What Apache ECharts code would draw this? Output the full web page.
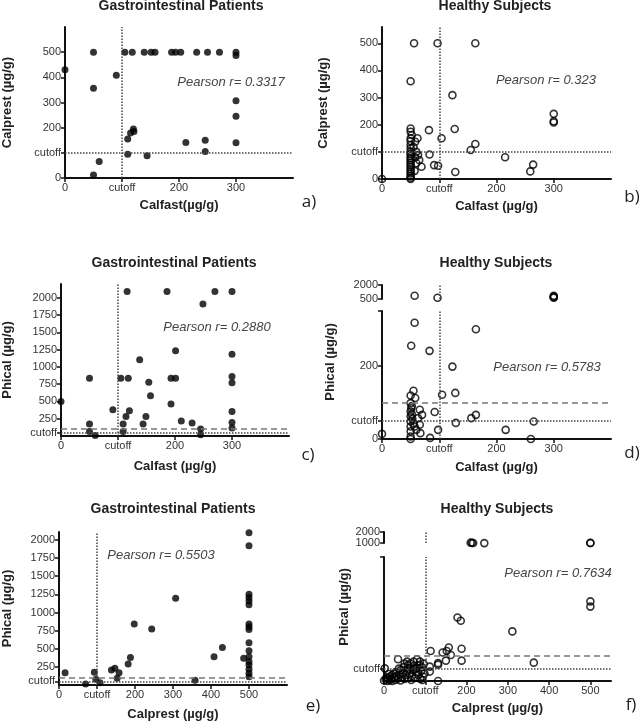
<!DOCTYPE html>
<html>
<head>
<meta charset="utf-8">
<script src="https://cdn.jsdelivr.net/npm/echarts@6/dist/echarts.min.js"></script>
<style>
  html, body { margin: 0; padding: 0; background: #fff; }
  #chart { width: 640px; height: 723px; }
</style>
</head>
<body>
<div id="chart"></div>
<script>
// a) GI patients, calfast vs calprest
const giCalfastCalprest = [[0,430],[50,500],[50,357],[50,12],[60,66],[90,408],[105,500],[118,500],[139,500],[151,500],[158,500],[187,500],[194,500],[203,500],[231,500],[250,500],[271,500],[300,500],[300,487],[300,307],[300,245],[300,140],[212,141],[246,150],[246,105],[144,88],[110,94],[110,155],[115,179],[120,195],[121,185]];
// b) healthy, calfast vs calprest
const hsCalfastCalprest = [[0,0],[56,500],[97,500],[163,500],[50,360],[123,309],[82,180],[127,184],[104,150],[163,129],[155,107],[215,80],[264,53],[259,28],[300,240],[300,213],[300,208],[83,90],[91,51],[98,49],[128,26],
  [50,186],[50,174],[52,162],[50,150],[50,140],[50,125],[50,113],[50,100],[50,92],[50,84],[50,76],[50,68],[50,60],[50,52],[50,44],[50,36],[50,28],[50,20],[50,12],[50,5],[50,0],
  [62,150],[58,137],[63,88],[65,70],[69,45],[60,58],[58,80],[55,118],[60,100],[57,30]];
// c) GI patients, calfast vs phical
const giCalfastPhical = [[0,500],[50,837],[50,173],[50,66],[60,9],[91,380],[105,837],[118,837],[116,2090],[109,173],[109,66],[114,283],[120,365],[138,1102],[144,173],[149,283],[154,779],[157,581],[186,2090],[193,462],[193,837],[201,837],[201,1235],[211,216],[230,187],[245,101],[245,19],[249,1909],[270,2090],[300,2090],[300,1183],[300,860],[300,770],[300,355],[300,196],[300,115]];
// d) healthy, calfast vs phical (lower part and part above the axis break)
const hsCalfastPhical = [[0,14],[57,318],[51,255],[83,241],[164,300],[123,198],[105,121],[128,126],[92,74],[98,25],[84,3],[129,44],[156,57],[164,66],[216,25],[265,48],[260,0],
  [55,132],[50,119],[58,112],[50,98],[51,84],[50,75],[50,62],[50,48],[50,34],[50,21],[50,7],[50,0],[66,80],[70,66],[63,57],[66,39],[67,16],[60,25],[57,34],[52,90],[53,55],[52,68],[55,42]];
const hsCalfastPhicalHigh = [[57,850],[97,640],[300,850],[300,760],[300,680],[300,640]];
// e) GI patients, calprest vs phical
const giCalprestPhical = [[16,170],[70,14],[93,175],[97,79],[108,32],[138,207],[147,230],[158,170],[153,92],[182,290],[188,378],[198,842],[244,773],[307,1197],[358,65],[408,391],[430,516],[486,369],
  [500,2100],[500,1920],[500,1250],[500,1205],[500,1160],[500,1105],[500,840],[500,805],[500,765],[500,584],[500,474],[500,391],[500,322],[500,276],[500,217],[500,162],[500,115]];
// f) healthy, calprest vs phical
const hsCalprestPhical = [[178,256],[186,243],[311,200],[363,74],[500,321],[500,300],[113,121],[142,115],[157,135],[152,121],[162,105],[188,130],[188,82],[150,82],[131,72],[131,66],[111,58],[111,38],[93,4],[131,0],[34,88],[2,51],[56,78],[72,78],[87,78],
  [0,2],[4,6],[8,0],[10,10],[14,3],[18,8],[20,0],[24,14],[28,4],[30,20],[34,10],[38,26],[40,2],[44,16],[46,32],[50,8],[52,24],[56,40],[58,14],[60,50],[62,30],[66,4],[68,20],[70,44],[72,60],[76,12],[78,34],[80,52],[84,24],[86,64],[88,8],[90,40],[92,56],[94,18],[96,70],[98,30],[40,44],[30,36],[20,24],[14,18],[48,56],[64,70],[80,88],[50,70],[24,30],[6,14],[12,28],[36,50],[58,64],[74,50]];
const hsCalprestPhicalHigh = [[210,1030],[213,1015],[216,1000],[243,990],[500,1010],[500,995]];

const pearson = ['Pearson r= 0.3317', 'Pearson r= 0.323', 'Pearson r= 0.2880', 'Pearson r= 0.5783', 'Pearson r= 0.5503', 'Pearson r= 0.7634'];
const panelTitles = ['Gastrointestinal Patients', 'Healthy Subjects', 'Gastrointestinal Patients', 'Healthy Subjects', 'Gastrointestinal Patients', 'Healthy Subjects'];
const panelLetters = ['a)', 'b)', 'c)', 'd)', 'e)', 'f)'];

// cutoffs
const calCutoff = 100;      // calfast / calprest
const phicalCutoff = 50;    // dotted
const phicalUpper = 100;    // dashed

// tick values
const ticksCalfast = [0, 100, 200, 300];
const ticksCalprestX = [0, 100, 200, 300, 400, 500];
const ticksCalprestY = [0, 100, 200, 300, 400, 500];
const ticksPhicalGI = [50, 250, 500, 750, 1000, 1250, 1500, 1750, 2000];
const ticksPhicalHS = [0, 50, 200, 350];
const ticksPhicalHSHigh = [500, 2000];
const ticksPhicalHSf = [50, 500];
const ticksPhicalHSfHigh = [1000, 2000];

const FONT = 'Liberation Sans, Arial, sans-serif';

const grids = [
  { left: 65, top: 27, width: 228, height: 151 },     // a
  { left: 382, top: 27, width: 229, height: 152 },    // b
  { left: 61, top: 284, width: 228, height: 152 },    // c
  { left: 382, top: 311, width: 229, height: 128 },   // d lower
  { left: 382, top: 285, width: 229, height: 14 },    // d upper
  { left: 59, top: 532, width: 228, height: 153 },    // e
  { left: 384, top: 557, width: 227, height: 124 },   // f lower
  { left: 384, top: 532, width: 227, height: 11 }     // f upper
].map(g => ({ ...g, containLabel: false, outerBoundsMode: 'none' }));

function valueAxis(gridIndex, min, max, ticks, cut, name, nameGap, isY) {
  return {
    type: 'value',
    gridIndex,
    min,
    max,
    name,
    nameLocation: 'middle',
    nameGap,
    nameRotate: isY ? 90 : 0,
    nameTextStyle: { fontFamily: FONT, fontWeight: 'bold', fontSize: 13, color: '#222' },
    axisLine: { show: true, onZero: false, lineStyle: { color: '#111', width: 2 } },
    axisTick: { show: true, length: 4, customValues: ticks, lineStyle: { color: '#111', width: 1.5 } },
    axisLabel: {
      customValues: ticks.filter(v => v !== 350 && !(isY && v === 500 && ticks.length === 2 && max === 500)),
      formatter: v => (v === cut ? 'cutoff' : String(v)),
      fontFamily: FONT, fontSize: 11, color: '#333', margin: 4
    },
    splitLine: { show: false }
  };
}

function hiddenX(gridIndex, max) {
  return { type: 'value', gridIndex, min: 0, max, show: false };
}

const dotted = { type: 'dotted', color: '#444', width: 1.5 };
const dashed = { type: [6, 4], color: '#777', width: 1.5 };

function lines(list) {
  return {
    symbol: 'none', silent: true, animation: false,
    label: { show: false },
    data: list
  };
}

function scatter(idx, data, filled, markLines) {
  return {
    type: 'scatter',
    xAxisIndex: idx,
    yAxisIndex: idx,
    data,
    symbolSize: 7,
    clip: false,
    silent: true,
    itemStyle: filled
      ? { color: '#000' }
      : { color: 'rgba(0,0,0,0)', borderColor: '#000', borderWidth: 1.6 },
    markLine: markLines ? lines(markLines) : undefined
  };
}

const xAxes = [
  valueAxis(0, 0, 400, ticksCalfast, calCutoff, 'Calfast(µg/g)', 21, false),
  valueAxis(1, 0, 400, ticksCalfast, calCutoff, 'Calfast (µg/g)', 21, false),
  valueAxis(2, 0, 400, ticksCalfast, calCutoff, 'Calfast (µg/g)', 24, false),
  valueAxis(3, 0, 400, ticksCalfast, calCutoff, 'Calfast (µg/g)', 22, false),
  hiddenX(4, 400),
  valueAxis(5, 0, 600, ticksCalprestX, calCutoff, 'Calprest (µg/g)', 23, false),
  valueAxis(6, 0, 550, ticksCalprestX, calCutoff, 'Calprest (µg/g)', 21, false),
  hiddenX(7, 550)
];

const dHigh = valueAxis(4, 500, 2000, ticksPhicalHSHigh, null, '', 0, true);
const fHigh = valueAxis(7, 1000, 2000, ticksPhicalHSfHigh, null, '', 0, true);
const fLow = valueAxis(6, 0, 500, ticksPhicalHSf, phicalCutoff, '', 0, true);
fLow.axisLabel.customValues = [phicalCutoff];

const yAxes = [
  valueAxis(0, 0, 600, ticksCalprestY, calCutoff, 'Calprest (µg/g)', 51, true),
  valueAxis(1, 0, 560, ticksCalprestY, calCutoff, 'Calprest (µg/g)', 52, true),
  valueAxis(2, 0, 2200, ticksPhicalGI, phicalCutoff, 'Phical (µg/g)', 47, true),
  valueAxis(3, 0, 350, ticksPhicalHS, phicalCutoff, '', 0, true),
  dHigh,
  valueAxis(5, 0, 2110, ticksPhicalGI, phicalCutoff, 'Phical (µg/g)', 45, true),
  fLow,
  fHigh
];

const series = [
  scatter(0, giCalfastCalprest, true, [{ xAxis: calCutoff, lineStyle: dotted }, { yAxis: calCutoff, lineStyle: dotted }]),
  scatter(1, hsCalfastCalprest, false, [{ xAxis: calCutoff, lineStyle: dotted }, { yAxis: calCutoff, lineStyle: dotted }]),
  scatter(2, giCalfastPhical, true, [{ xAxis: calCutoff, lineStyle: dotted }, { yAxis: phicalCutoff, lineStyle: dotted }, { yAxis: phicalUpper, lineStyle: dashed }]),
  scatter(3, hsCalfastPhical, false, [{ xAxis: calCutoff, lineStyle: dotted }, { yAxis: phicalCutoff, lineStyle: dotted }, { yAxis: phicalUpper, lineStyle: dashed }]),
  scatter(4, hsCalfastPhicalHigh, false, [{ xAxis: calCutoff, lineStyle: dotted }]),
  scatter(5, giCalprestPhical, true, [{ xAxis: calCutoff, lineStyle: dotted }, { yAxis: phicalCutoff, lineStyle: dotted }, { yAxis: phicalUpper, lineStyle: dashed }]),
  scatter(6, hsCalprestPhical, false, [{ xAxis: calCutoff, lineStyle: dotted }, { yAxis: phicalCutoff, lineStyle: dotted }, { yAxis: phicalUpper, lineStyle: dashed }]),
  scatter(7, hsCalprestPhicalHigh, false, [{ xAxis: calCutoff, lineStyle: dotted }])
];

// text positions [x, y]
const titlePos = [[181, 6], [495, 6], [174, 263], [496, 263], [173, 509], [497, 509]];
const pearsonPos = [[231, 82], [546, 80], [217, 327], [547, 367], [161, 555], [558, 573]];
const letterPos = [[309, 202], [632, 197], [308, 455], [632, 453], [313, 706], [631, 705]];

const graphic = [];
panelTitles.forEach((t, i) => {
  graphic.push({ type: 'text', x: titlePos[i][0], y: titlePos[i][1], silent: true,
    style: { text: t, font: 'bold 14px ' + FONT, fill: '#222', align: 'center', verticalAlign: 'middle' } });
});
pearson.forEach((t, i) => {
  graphic.push({ type: 'text', x: pearsonPos[i][0], y: pearsonPos[i][1], silent: true,
    style: { text: t, font: 'italic 13px ' + FONT, fill: '#444', align: 'center', verticalAlign: 'middle' } });
});
panelLetters.forEach((t, i) => {
  graphic.push({ type: 'text', x: letterPos[i][0], y: letterPos[i][1], silent: true,
    style: { text: t, font: '17px Open Sans, sans-serif', fill: '#222', align: 'center', verticalAlign: 'middle' } });
});
// y names of the broken axes
[[330, 362], [344, 607]].forEach(p => {
  graphic.push({ type: 'text', x: p[0], y: p[1], rotation: Math.PI / 2, silent: true,
    style: { text: 'Phical (µg/g)', font: 'bold 13px ' + FONT, fill: '#222', align: 'center', verticalAlign: 'middle' } });
});

const chart = echarts.init(document.getElementById('chart'), null, { renderer: 'canvas' });
chart.setOption({
  animation: false,
  backgroundColor: '#fff',
  grid: grids,
  xAxis: xAxes,
  yAxis: yAxes,
  series,
  graphic
});
</script>
</body>
</html>
